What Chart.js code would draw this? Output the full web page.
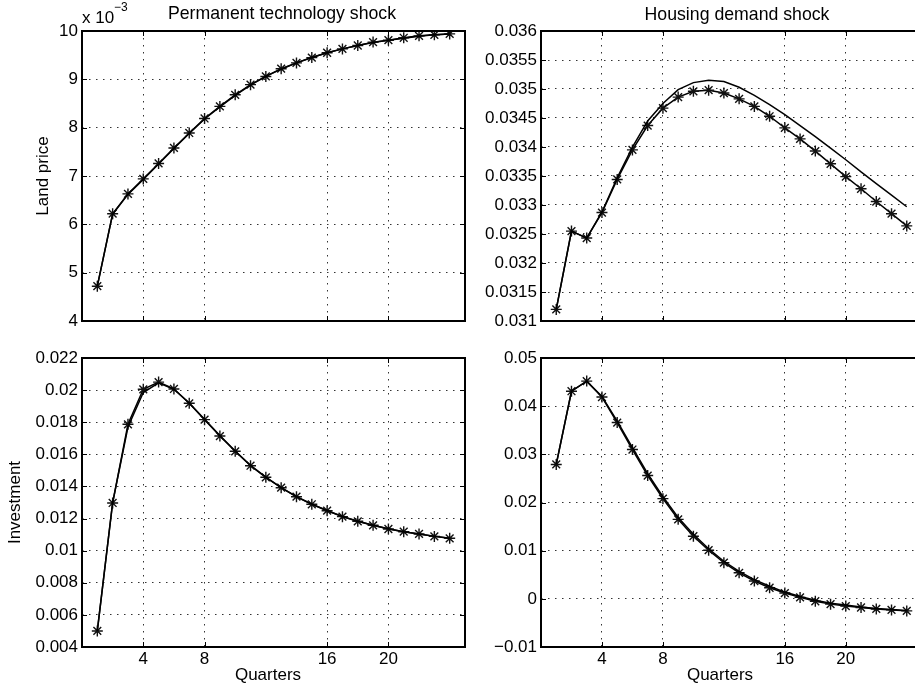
<!DOCTYPE html>
<html>
<head>
<meta charset="utf-8">
<script src="https://cdn.jsdelivr.net/npm/chart.js@4.4.1/dist/chart.umd.min.js"></script>
<style>
  html, body { margin: 0; padding: 0; background: #fff; overflow: hidden; }
  #fig { position: relative; width: 915px; height: 689px; overflow: hidden; }
  #fig canvas { position: absolute; }
</style>
</head>
<body>
<div id="fig">
  <canvas id="techLand" width="475" height="340" style="left:0;top:0"></canvas>
  <canvas id="housingLand" width="475" height="340" style="left:458px;top:0"></canvas>
  <canvas id="techInv" width="475" height="349" style="left:0;top:340px"></canvas>
  <canvas id="housingInv" width="475" height="349" style="left:458px;top:340px"></canvas>
</div>
<script>
// quarters after the shock
const quarters = [1, 2, 3, 4, 5, 6, 7, 8, 9, 10, 11, 12, 13, 14, 15, 16, 17, 18, 19, 20, 21, 22, 23, 24];
const quarterTicks = [4, 8, 16, 20];

// land price, permanent technology shock
const techLandPlain = [0.00472, 0.00621, 0.00662, 0.00693, 0.00725, 0.00757, 0.00788, 0.00818, 0.00843, 0.00867, 0.00888, 0.00906, 0.00921, 0.00934, 0.00945, 0.00955, 0.00963, 0.00970, 0.00976, 0.00981, 0.00985, 0.00989, 0.00992, 0.00994];
const techLandStar  = [0.00472, 0.00622, 0.00663, 0.00694, 0.00726, 0.00758, 0.00789, 0.00819, 0.00844, 0.00868, 0.00889, 0.00906, 0.00922, 0.00934, 0.00945, 0.00955, 0.00963, 0.00970, 0.00977, 0.00981, 0.00986, 0.00990, 0.00992, 0.00994];
const techLandTicks = [0.004, 0.005, 0.006, 0.007, 0.008, 0.009, 0.010];

// land price, housing demand shock
const housingLandPlain = [0.03120, 0.03255, 0.03243, 0.03288, 0.03347, 0.03400, 0.03445, 0.03475, 0.03499, 0.03511, 0.03515, 0.03513, 0.03503, 0.03489, 0.03473, 0.03456, 0.03437, 0.03418, 0.03398, 0.03378, 0.03357, 0.03337, 0.03317, 0.03297];
const housingLandStar  = [0.03120, 0.03255, 0.03243, 0.03287, 0.03344, 0.03395, 0.03437, 0.03467, 0.03486, 0.03496, 0.03498, 0.03493, 0.03483, 0.03470, 0.03453, 0.03433, 0.03414, 0.03393, 0.03371, 0.03349, 0.03328, 0.03306, 0.03285, 0.03264];
const housingLandTicks = [0.031, 0.0315, 0.032, 0.0325, 0.033, 0.0335, 0.034, 0.0345, 0.035, 0.0355, 0.036];

// investment, permanent technology shock
const techInvPlain = [0.00500, 0.01300, 0.01770, 0.01985, 0.02045, 0.02005, 0.01920, 0.01819, 0.01717, 0.01621, 0.01531, 0.01458, 0.01393, 0.01337, 0.01290, 0.01250, 0.01213, 0.01183, 0.01158, 0.01136, 0.01118, 0.01104, 0.01090, 0.01078];
const techInvStar  = [0.00500, 0.01297, 0.01787, 0.02005, 0.02050, 0.02007, 0.01918, 0.01816, 0.01714, 0.01619, 0.01529, 0.01457, 0.01392, 0.01336, 0.01289, 0.01249, 0.01212, 0.01183, 0.01158, 0.01135, 0.01118, 0.01104, 0.01089, 0.01077];
const techInvTicks = [0.004, 0.006, 0.008, 0.010, 0.012, 0.014, 0.016, 0.018, 0.020, 0.022];

// investment, housing demand shock
const housingInvPlain = [0.0279, 0.0431, 0.0452, 0.0420, 0.0369, 0.0314, 0.0260, 0.0212, 0.0169, 0.0134, 0.0104, 0.0078, 0.0057, 0.0040, 0.0026, 0.0014, 0.0005, -0.0003, -0.0009, -0.0013, -0.0017, -0.0020, -0.0022, -0.0024];
const housingInvStar  = [0.0279, 0.0431, 0.0452, 0.0419, 0.0366, 0.0310, 0.0256, 0.0208, 0.0165, 0.0130, 0.0101, 0.0075, 0.0054, 0.0037, 0.0023, 0.0012, 0.0003, -0.0005, -0.0011, -0.0015, -0.0018, -0.0021, -0.0023, -0.0025];
const housingInvTicks = [-0.01, 0, 0.01, 0.02, 0.03, 0.04, 0.05];

const FONT = '"Liberation Sans", Arial, Helvetica, sans-serif';
Chart.defaults.font.family = FONT;
Chart.defaults.font.size = 17;
Chart.defaults.color = '#000';

// matlab style box, inward ticks and loose text
const frame = {
  id: 'frame',
  afterDraw(chart, args, opts) {
    const { ctx, chartArea: a, scales: { x, y } } = chart;
    ctx.save();
    ctx.strokeStyle = '#000';
    ctx.lineWidth = 1;
    ctx.beginPath();
    x.ticks.forEach(t => {
      const px = Math.round(x.getPixelForValue(t.value)) + 0.5;
      ctx.moveTo(px, a.bottom); ctx.lineTo(px, a.bottom - 5);
      ctx.moveTo(px, a.top); ctx.lineTo(px, a.top + 5);
    });
    y.ticks.forEach(t => {
      const py = Math.round(y.getPixelForValue(t.value)) + 0.5;
      ctx.moveTo(a.left, py); ctx.lineTo(a.left + 5, py);
      ctx.moveTo(a.right, py); ctx.lineTo(a.right - 5, py);
    });
    ctx.stroke();
    ctx.lineWidth = 2;
    ctx.strokeRect(a.left, a.top, a.right - a.left, a.bottom - a.top);

    ctx.fillStyle = '#000';
    ctx.textBaseline = 'alphabetic';
    (opts.texts || []).forEach(t => {
      ctx.font = (t.size || 17) + 'px ' + FONT;
      ctx.textAlign = t.align || 'center';
      ctx.fillText(t.text, t.x, t.y);
    });
    ctx.restore();
  }
};

function fmt(v, digits) {
  return String(+v.toFixed(digits)).replace('-', '\u2212');
}

function makePanel(id, o) {
  const pts = arr => quarters.map((q, i) => ({ x: q, y: arr[i] }));
  return new Chart(document.getElementById(id), {
    type: 'line',
    data: {
      datasets: [
        {
          data: pts(o.plain),
          borderColor: '#000',
          borderWidth: 1.5,
          pointRadius: 0,
          tension: 0,
        },
        {
          data: pts(o.star),
          borderColor: '#000',
          borderWidth: 1.5,
          pointStyle: 'star',
          pointRadius: 5.5,
          pointBorderColor: '#111',
          pointBorderWidth: 1.4,
          pointBackgroundColor: '#111',
          tension: 0,
        },
      ],
    },
    options: {
      responsive: false,
      animation: false,
      events: [],
      layout: { padding: { top: o.padTop, right: o.padRight, left: 0, bottom: 0 } },
      plugins: {
        legend: { display: false },
        tooltip: { enabled: false },
        frame: { texts: o.texts },
      },
      scales: {
        x: {
          type: 'linear',
          min: 0,
          max: 25,
          afterBuildTicks: s => { s.ticks = quarterTicks.map(v => ({ value: v })); },
          afterFit: s => { s.height = o.xHeight; },
          ticks: { display: o.showX, padding: 2, autoSkip: false, maxRotation: 0, callback: v => String(v) },
          grid: { color: '#333', lineWidth: 1, drawTicks: false },
          border: { display: false, dash: [1.5, 5.5] },
        },
        y: {
          min: o.ticks[0],
          max: o.ticks[o.ticks.length - 1],
          afterBuildTicks: s => { s.ticks = o.ticks.map(v => ({ value: v })); },
          afterFit: s => { s.width = o.yWidth; },
          ticks: { padding: 4, autoSkip: false, callback: o.label },
          grid: { color: '#333', lineWidth: 1, drawTicks: false },
          border: { display: false, dash: [1.5, 5.5] },
          title: o.ylabel
            ? { display: true, text: o.ylabel, padding: { top: o.ylabelPad, bottom: 0 } }
            : { display: false },
        },
      },
    },
    plugins: [frame],
  });
}

makePanel('techLand', {
  plain: techLandPlain, star: techLandStar, ticks: techLandTicks,
  label: v => String(Math.round(v * 1000)),
  yWidth: 82, padTop: 31, padRight: 10, xHeight: 19, showX: false,
  ylabel: 'Land price', ylabelPad: 33,
  texts: [
    { text: 'Permanent technology shock', x: 282, y: 19, size: 17.7 },
    { text: 'x 10', x: 82, y: 23, align: 'left' },
    { text: '\u22123', x: 114, y: 11, size: 12, align: 'left' },
  ],
});

makePanel('housingLand', {
  plain: housingLandPlain, star: housingLandStar, ticks: housingLandTicks,
  label: v => fmt(v, 4),
  yWidth: 83, padTop: 31, padRight: 11, xHeight: 19, showX: false,
  texts: [
    { text: 'Housing demand shock', x: 279, y: 20, size: 17.7 },
  ],
});

makePanel('techInv', {
  plain: techInvPlain, star: techInvStar, ticks: techInvTicks,
  label: v => fmt(v, 3),
  yWidth: 82, padTop: 18, padRight: 10, xHeight: 42, showX: true,
  ylabel: 'Investment', ylabelPad: 5,
  texts: [
    { text: 'Quarters', x: 268, y: 340 },
  ],
});

makePanel('housingInv', {
  plain: housingInvPlain, star: housingInvStar, ticks: housingInvTicks,
  label: v => fmt(v, 2),
  yWidth: 83, padTop: 18, padRight: 11, xHeight: 42, showX: true,
  texts: [
    { text: 'Quarters', x: 262, y: 340 },
  ],
});
</script>
</body>
</html>
